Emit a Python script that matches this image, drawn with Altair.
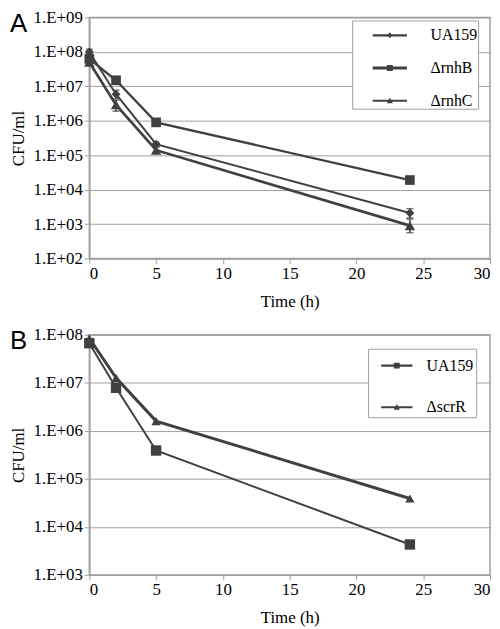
import altair as alt
import pandas as pd

# ---------------- data ----------------
times = [0, 2, 5, 24]

a_strains = ["UA159", "ΔrnhB", "ΔrnhC"]
a_ua159 = [1.0e8, 5.9e6, 2.1e5, 2.1e3]
a_rnhb = [6.3e7, 1.5e7, 9.0e5, 1.9e4]
a_rnhc = [5.0e7, 2.9e6, 1.4e5, 9.0e2]
a_ua159_lo = [8.8e7, 4.4e6, 1.8e5, 1.5e3]
a_ua159_hi = [1.2e8, 7.7e6, 2.4e5, 2.8e3]
a_rnhc_lo = [4.2e7, 1.9e6, 1.15e5, 5.6e2]
a_rnhc_hi = [5.8e7, 4.0e6, 1.7e5, 1.4e3]

b_strains = ["UA159", "ΔscrR"]
b_ua159 = [6.7e7, 7.9e6, 3.9e5, 4.3e3]
b_scrr = [8.5e7, 1.27e7, 1.6e6, 3.9e4]

a_y_ticks = [1e2, 1e3, 1e4, 1e5, 1e6, 1e7, 1e8, 1e9]
b_y_ticks = [1e3, 1e4, 1e5, 1e6, 1e7, 1e8]
x_ticks = [0, 5, 10, 15, 20, 25, 30]

# ---------------- styling ----------------
DARK = "#404040"
GRID = "#a0a0a0"
SERIF = "Liberation Serif, Times New Roman, DejaVu Serif, serif"

LINE = "M-1.15,-0.07H1.15V0.07H-1.15Z"
LINE_THICK = "M-1.15,-0.1H1.15V0.1H-1.15Z"
LINE_B = "M-1.05,-0.07H1.05V0.07H-1.05Z"
DIAMOND = "M0,-0.2L0.17,0L0,0.2L-0.17,0Z"
SQUARE = "M-0.2,-0.2H0.2V0.2H-0.2Z"
TRIANGLE = "M0,-0.22L0.2,0.16L-0.2,0.16Z"


def rows(strains, series):
    out = []
    for s, vals in zip(strains, series):
        for t, v in zip(times, vals):
            out.append({"t": t, "cfu": v, "strain": s})
    return pd.DataFrame(out)


def panel(df, err, strains, shapes, leg_paths, widths, sizes, yticks,
          height, letter, leg):
    ydom = [yticks[0], yticks[-1]]
    x = alt.X("t:Q", title="Time (h)",
              scale=alt.Scale(domain=[0, 30], nice=False),
              axis=alt.Axis(values=x_ticks, grid=False))
    y = alt.Y("cfu:Q", title="CFU/ml",
              scale=alt.Scale(type="log", domain=ydom, nice=False),
              axis=alt.Axis(values=yticks,
                            labelExpr="'1.E+0' + round(log(datum.value)/log(10))"))
    base = alt.Chart(df)
    lines = base.mark_line(color=DARK).encode(
        x=x, y=y, detail="strain:N",
        strokeWidth=alt.StrokeWidth("strain:N", legend=None,
                                    scale=alt.Scale(domain=strains, range=widths)))
    pts = base.mark_point(filled=True, color=DARK, opacity=1).encode(
        x=x, y=y,
        shape=alt.Shape("strain:N", legend=None,
                        scale=alt.Scale(domain=strains, range=shapes)),
        size=alt.Size("strain:N", legend=None,
                      scale=alt.Scale(domain=strains, range=sizes)))
    lx, ly, pad, rowpad, soff, loff, trail = leg
    legpts = base.mark_point(filled=True, color=DARK, opacity=0).encode(
        x=x, y=y,
        shape=alt.Shape("strain:N", title=None,
                        scale=alt.Scale(domain=strains, range=leg_paths),
                        legend=alt.Legend(
                            orient="none", legendX=lx, legendY=ly,
                            symbolSize=900, symbolOpacity=1,
                            symbolFillColor=DARK, symbolStrokeWidth=0,
                            symbolStrokeColor=DARK,
                            labelFont=SERIF, labelFontSize=16, labelColor="black",
                            labelExpr="datum.label + '" + " " * trail + "'",
                            labelOffset=loff, symbolOffset=soff, rowPadding=rowpad,
                            padding=pad, strokeColor=GRID, fillColor="white")))
    lab = alt.Chart(pd.DataFrame({"letter": [letter]})).mark_text(
        font="Liberation Sans, Arial, sans-serif", fontSize=26, align="left",
        baseline="top", color="black").encode(
        text="letter:N", x=alt.value(-80), y=alt.value(-6.5))
    layers = [lines, pts, legpts, lab]
    if err is not None:
        eb = alt.Chart(err).mark_errorbar(ticks=alt.MarkConfig(size=7), color=DARK,
                                          thickness=1.5).encode(
            x=alt.X("t:Q"), y=alt.Y("lo:Q", title="CFU/ml"), y2="hi:Q")
        layers.insert(1, eb)
    return alt.layer(*layers).resolve_scale(shape="independent", size="independent").properties(
        width=404, height=height)


a_df = rows(a_strains, [a_ua159, a_rnhb, a_rnhc])
err_rows = []
for lo_l, hi_l in [(a_ua159_lo, a_ua159_hi), (a_rnhc_lo, a_rnhc_hi)]:
    for t, lo, hi in zip(times, lo_l, hi_l):
        err_rows.append({"t": t, "lo": lo, "hi": hi})
a_err = pd.DataFrame(err_rows)
b_df = rows(b_strains, [b_ua159, b_scrr])

pa = panel(a_df, a_err, a_strains, ["diamond", "square", "triangle-up"],
           [LINE + DIAMOND, LINE_THICK + SQUARE, LINE + TRIANGLE],
           [2, 3, 2], [80, 110, 90], a_y_ticks, 243, "A",
           (265, 3, 0, 10, 23, 26, 7))
pb = panel(b_df, None, b_strains, ["square", "triangle-up"],
           [LINE_B + SQUARE, LINE_B + TRIANGLE],
           [2, 2], [110, 90], b_y_ticks, 242, "B",
           (281, 14, 2, 19, 12, 15, 3))

chart = alt.vconcat(pa, pb, spacing=15).configure_axis(
    labelFont=SERIF, labelFontSize=17, labelColor="black",
    titleFont=SERIF, titleFontSize=17, titleFontWeight="normal", titleColor="black",
    domainColor=GRID, tickColor=GRID, tickSize=5, gridColor=GRID,
    labelPadding=2, domainWidth=1.5,
).configure_axisY(titlePadding=6).configure_axisX(titlePadding=12).configure_view(
    stroke=GRID, strokeWidth=1.5
).properties(padding={"left": 0, "top": -3, "right": 0, "bottom": 0})

chart.save("out.html", embed_options={"renderer": "svg", "actions": False})
